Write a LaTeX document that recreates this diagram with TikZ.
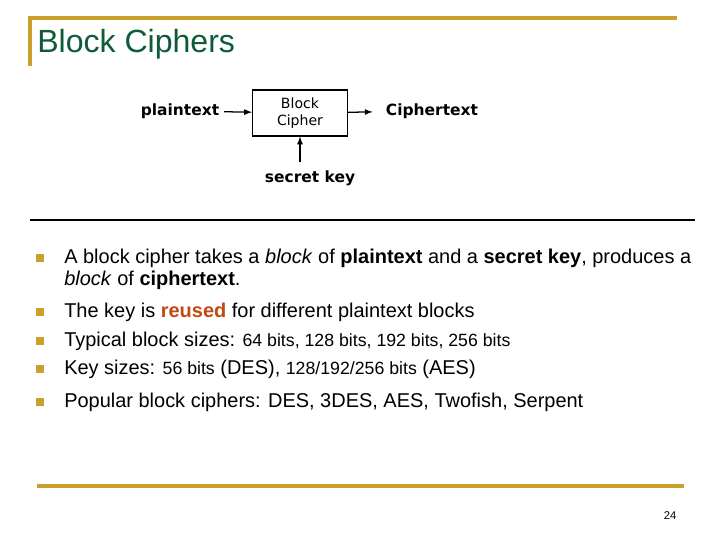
\documentclass[tikz,border=0pt]{standalone}
\usepackage{fontspec}
\setmainfont{Liberation Sans}
\newfontfamily\diagfont{DejaVu Sans}
\usetikzlibrary{positioning}
\definecolor{gold}{HTML}{C9A02C}
\definecolor{titlegreen}{HTML}{0E5A3A}
\definecolor{reusedred}{HTML}{BF4A12}
\tikzset{
  bullet/.style={fill=gold, minimum size=5pt, inner sep=0pt},
  item/.style={anchor=base west, font=\fontsize{14.2}{16}\selectfont, inner sep=0pt},
  flow/.style={->, >=latex, line width=0.9pt},
  label/.style={font=\diagfont\bfseries\fontsize{11}{13}\selectfont},
}
\newcommand{\sm}[1]{{\fontsize{12.6}{14}\selectfont #1}}
\begin{document}
\begin{tikzpicture}[x=0.025cm, y=-0.025cm]
    \useasboundingbox (0,0) rectangle (720,540);
    % header and rules
    \draw[gold, line width=2.2pt] (30,66) -- (30,18) -- (677,18);
    \node[anchor=base west, inner sep=0pt, text=titlegreen, font=\fontsize{22.8}{25}\selectfont] (title) at (37,52) {Block Ciphers};
    \draw[black, line width=1.3pt] (30,220) -- (695,220);
    \draw[gold, line width=2.6pt] (37,486) -- (684,486);
    \node[font=\fontsize{8}{9}\selectfont] (page) at (670,516) {24};
    % the cipher
    \node[draw, thick, minimum width=95*0.025cm, minimum height=46*0.025cm, align=center, font=\diagfont\fontsize{10}{12}\selectfont] (cipher) at (300,113) {Block\\Cipher};
    \node[label] (plain) at (180,111) {plaintext};
    \node[label] (cipherout) at (432,111) {Ciphertext};
    \node[label] (key) at (310,178) {secret key};
    \draw[flow] (plain) -- (cipher);
    \draw[flow, shorten >=6pt] (cipher) -- (cipherout);
    \draw[flow] (key.north -| cipher.south) ++(0,-3) -- (cipher.south);
    % bullets
    \foreach \y in {258,312,341,369,402}
        \node[bullet] at (40,\y) {};
    \node[item] (b1) at (64,263) {A block cipher takes a \textit{block} of \textbf{plaintext} and a \textbf{secret key}, produces a};
    \node[item] (b1b) at (64,285) {\textit{block} of \textbf{ciphertext}.};
    \node[item] (b2) at (64,317) {The key is \textbf{\textcolor{reusedred}{reused}} for different plaintext blocks};
    \node[item] (b3) at (64,346) {Typical block sizes: \sm{64 bits, 128 bits, 192 bits, 256 bits}};
    \node[item] (b4) at (64,374) {Key sizes: \sm{56 bits} (DES), \sm{128/192/256 bits} (AES)};
    \node[item] (b5) at (64,407) {Popular block ciphers: DES, 3DES, AES, Twofish, Serpent};
\end{tikzpicture}
\end{document}
